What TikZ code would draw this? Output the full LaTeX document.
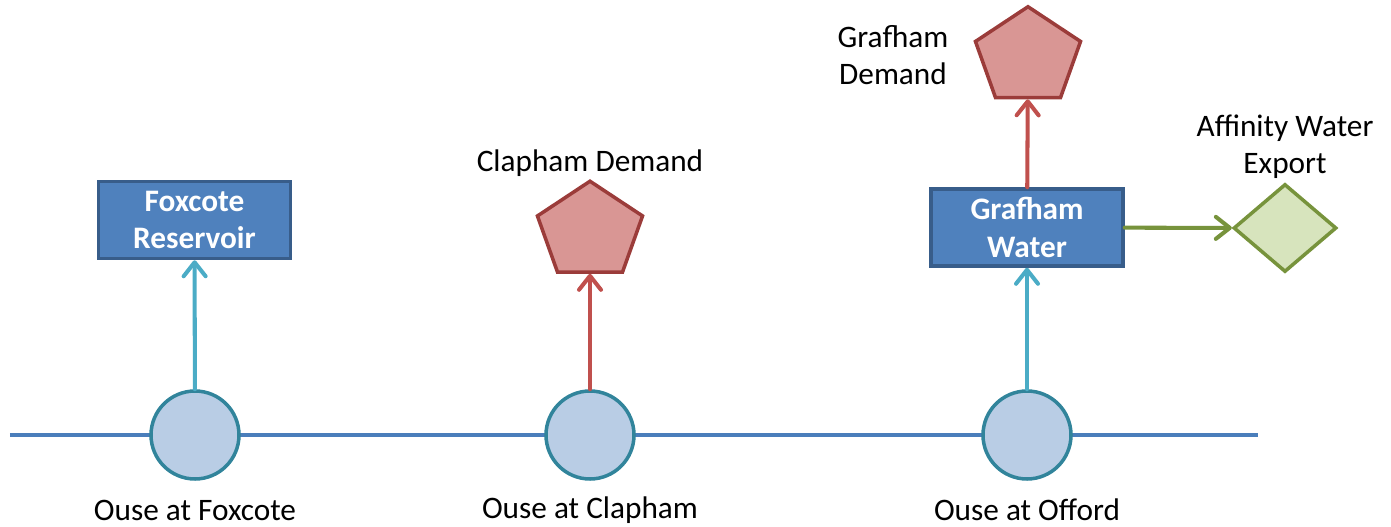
\documentclass[tikz,border=0pt]{standalone}
\usepackage{fontspec}
\setmainfont{Carlito}
\usetikzlibrary{shapes.geometric,arrows.meta}
\definecolor{boxfill}{HTML}{4F81BD}
\definecolor{boxdraw}{HTML}{385D8A}
\definecolor{nodefill}{HTML}{B9CDE5}
\definecolor{nodedraw}{HTML}{31849B}
\definecolor{flowteal}{HTML}{4BACC6}
\definecolor{flowred}{HTML}{C0504D}
\definecolor{demfill}{HTML}{D99694}
\definecolor{demdraw}{HTML}{9B3C3A}
\definecolor{flowgreen}{HTML}{77933C}
\definecolor{expfill}{HTML}{D7E4BD}
\definecolor{river}{HTML}{4A7EBB}
\begin{document}
\begin{tikzpicture}[font=\fontsize{17.8}{21}\selectfont]
	\tikzstyle{place}=[circle, draw=nodedraw, fill=nodefill, line width=2pt, minimum size=17.6mm, inner sep=0]
	\tikzstyle{store}=[rectangle, draw=boxdraw, fill=boxfill, line width=2pt, minimum width=38.4mm, minimum height=15.4mm, text=white, font=\fontsize{17.8}{21.5}\selectfont\bfseries, align=center]
	\tikzstyle{demand}=[regular polygon, regular polygon sides=5, draw=demdraw, fill=demfill, line width=2pt, minimum size=22.1mm, inner sep=0, yscale=0.91]
	\tikzstyle{export}=[diamond, draw=flowgreen, fill=expfill, line width=2pt, minimum width=20.6mm, minimum height=17.6mm, inner sep=0]
	\tikzstyle{flow}=[line width=2.3pt, line cap=round, -{Straight Barb[length=2.8mm, width=4.4mm, line cap=round, line join=round]}]
	\useasboundingbox (0,0) rectangle (27.82,-10.54);
	% River
	\coordinate (up) at (0.2, -8.7);
	\coordinate (down) at (25.16, -8.7);
	\draw[river, line width=2.3pt] (up) -- (down);
	% River nodes
	\foreach \x/\n/\t in {3.9/foxcote/Foxcote, 11.8/clapham/Clapham, 20.54/offord/Offord}
	{
		\node at (\x, -8.7) [place] (\n){};
		\node at (\x, -10.2) (\n_lbl){Ouse at \t};
	}
	% Reservoirs
	\node at (3.89, -4.4) [store] (foxres){Foxcote\\Reservoir};
	\node at (20.54, -4.55) [store] (grafres){Grafham\\Water};
	% Demands
	\node at (11.8, -4.63) [demand] (clapdem){};
	\node at (11.8, -3.26) (clapdem_lbl){Clapham Demand};
	\node at (20.56, -1.14) [demand] (grafdem){};
	\node at (17.86, -1.1) [align=center] (grafdem_lbl){Grafham\\Demand};
	% Export
	\node at (25.7, -4.56) [export] (affexp){};
	\node at (25.7, -2.94) [align=center] (affexp_lbl){Affinity Water\\Export};
	%---------------------%
	\draw[flow, flowteal] (foxcote) to (foxres);
	\draw[flow, flowred] (clapham) to (clapdem);
	\draw[flow, flowteal] (offord) to (grafres);
	\draw[flow, flowred] (grafres) to (grafdem);
	\draw[flow, flowgreen] (grafres) to (affexp);
	%---------------------%
\end{tikzpicture}
\end{document}
